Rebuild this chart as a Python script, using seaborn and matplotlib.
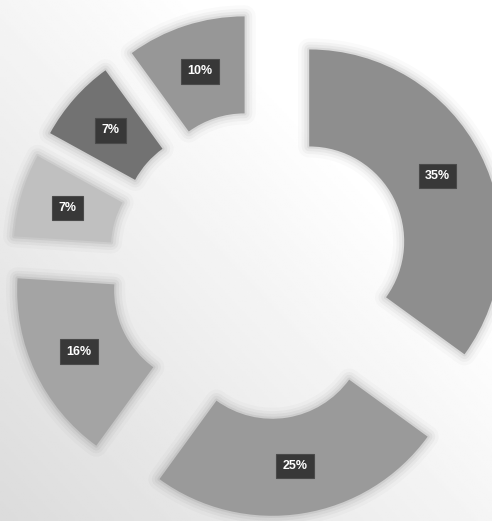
import numpy as np
import matplotlib
matplotlib.use("Agg")
import matplotlib.pyplot as plt
import seaborn as sns

# data (clockwise from 12 o'clock)
labels = ["A", "B", "C", "D", "E", "F"]
values = [35, 25, 16, 7, 7, 10]

# styling
colors = ["#8e8e8e", "#9a9a9a", "#a4a4a4", "#c0c0c0", "#727272", "#979797"]
explode = [0.27, 0.31, 0.31, 0.31, 0.31, 0.31]

sns.set_theme(style="white")
plt.rcParams["font.family"] = ["Liberation Sans", "DejaVu Sans"]

W, H = 492, 521
R = 192.0          # pixels per unit radius
CX, CY = 263, 265  # donut centre in pixels

fig = plt.figure(figsize=(W / 100, H / 100), dpi=100)

# background gradient (white top-right -> light gray bottom-left)
bg = fig.add_axes([0, 0, 1, 1], zorder=0)
xx, yy = np.meshgrid(np.linspace(0, 1, 200), np.linspace(0, 1, 200))
v = 0.86 + 0.14 * np.clip((xx + (1 - yy)) / 1.4, 0, 1)
bg.imshow(v, cmap="gray", vmin=0, vmax=1, aspect="auto", extent=[0, 1, 0, 1], origin="upper")
bg.set_axis_off()

ax = fig.add_axes([0, 0, 1, 1], zorder=1)
ax.patch.set_alpha(0)
ax.set_axis_off()

common = dict(startangle=90, counterclock=False, explode=explode, radius=1.0)
width = 1 - 95 / R

# soft shadows
for lw, a in [(16, 0.02), (11, 0.03), (7, 0.04), (3, 0.06)]:
    ax.pie(values, colors=["none"] * len(values),
           wedgeprops=dict(width=width, edgecolor=(0, 0, 0, a), linewidth=lw,
                           joinstyle="round"), **common)

wedges, texts, autotexts = ax.pie(
    values, colors=colors,
    autopct=lambda p: f"{round(p):d}%", pctdistance=0.75,
    wedgeprops=dict(width=width, edgecolor="none"), **common)

for t in autotexts:
    t.set_color("white")
    t.set_fontweight("bold")
    t.set_fontsize(9)
    t.set_bbox(dict(boxstyle="square,pad=0.5", fc="#383838", ec="#4a4a4a", lw=0.8))

ax.set_aspect("equal")
ax.set_xlim(-CX / R, (W - CX) / R)
ax.set_ylim(-(H - CY) / R, CY / R)

fig.savefig("out.png", dpi=100)
